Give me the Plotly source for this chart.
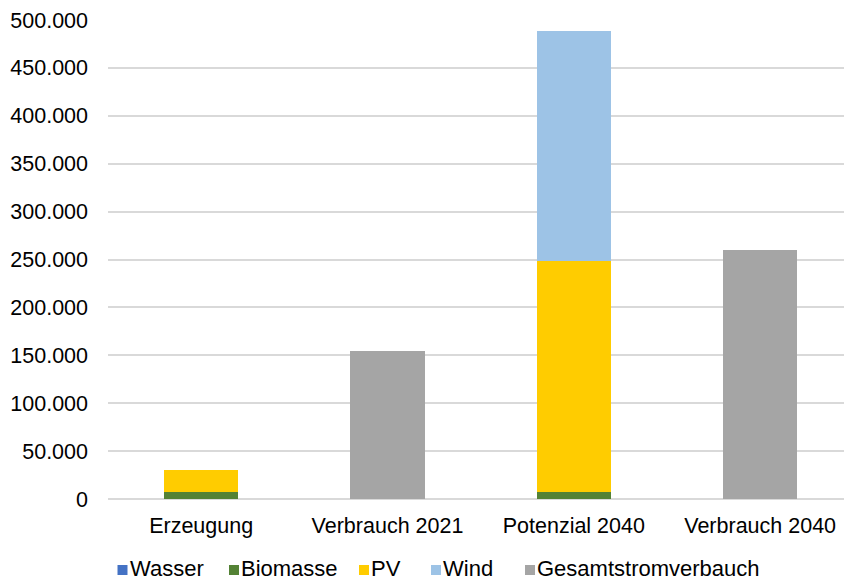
import plotly.graph_objects as go

# Kategorien und Werte (MWh)
kategorien = ["Erzeugung", "Verbrauch 2021", "Potenzial 2040", "Verbrauch 2040"]
wasser = [300, None, 300, None]
biomasse = [6700, None, 7000, None]
pv = [23400, None, 241000, None]
wind = [None, None, 240500, None]
gesamtstromverbrauch = [None, 155000, None, 260000]

serien = [
    ("Wasser", wasser, "#4472C4"),
    ("Biomasse", biomasse, "#548235"),
    ("PV", pv, "#FFCC00"),
    ("Wind", wind, "#9DC3E6"),
    ("Gesamtstromverbauch", gesamtstromverbrauch, "#A5A5A5"),
]

# Seitenmaße und Zeichenfläche (Pixel)
W, H = 844, 581
ML, MR, MT, MB = 108, 0, 20, 82
PW, PH = W - ML - MR, H - MT - MB


def px_x(x):
    return (x - ML) / PW


def px_y(y):
    return (H - MB - y) / PH


schrift = dict(family="Liberation Sans, Arial, sans-serif", size=21.5, color="#000000")
legenden_schrift = dict(schrift, size=22)

fig = go.Figure()
for name, werte, farbe in serien:
    fig.add_trace(go.Bar(
        x=kategorien, y=werte, name=name,
        marker=dict(color=farbe, line=dict(width=0)),
        showlegend=False,
    ))

# Legende unter dem Diagramm: Farbfeld + Beschriftung
legenden_x = [117.5, 229, 359, 431, 525]
legenden_y = 568
for (name, _, farbe), lx in zip(serien, legenden_x):
    fig.add_shape(
        type="rect", xref="paper", yref="paper",
        x0=px_x(lx), x1=px_x(lx + 10),
        y0=px_y(legenden_y + 7), y1=px_y(legenden_y - 3),
        fillcolor=farbe, line=dict(width=0),
    )
    fig.add_annotation(
        text=name, xref="paper", yref="paper",
        x=px_x(lx + 11), y=px_y(legenden_y), xanchor="left", yanchor="middle",
        showarrow=False, font=legenden_schrift, borderpad=0,
    )

fig.update_layout(
    barmode="stack",
    bargap=0.6,
    width=W, height=H,
    margin=dict(l=ML, r=MR, t=MT, b=MB),
    paper_bgcolor="white", plot_bgcolor="white",
    separators=",.",
    font=schrift,
    showlegend=False,
    xaxis=dict(
        range=[-0.5, 3.45], showgrid=False, showline=False, ticks="",
        tickfont=schrift, ticklabelstandoff=11,
    ),
    yaxis=dict(
        range=[0, 500000], dtick=50000, tickformat=",.0f",
        showgrid=True, gridcolor="#D9D9D9", gridwidth=1.5,
        zeroline=True, zerolinecolor="#D9D9D9", zerolinewidth=1.5,
        showline=False, ticks="", ticklabelstandoff=19, tickfont=schrift,
    ),
)

fig.write_html("out.html")
